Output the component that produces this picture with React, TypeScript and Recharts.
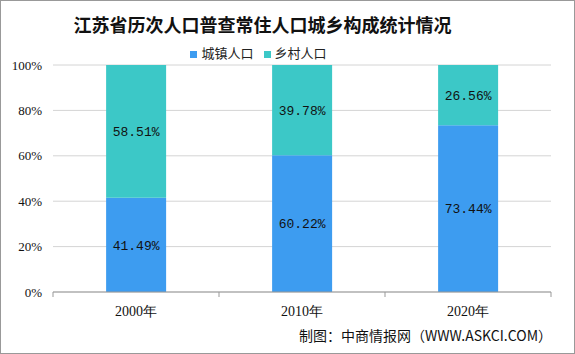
import React from "react";
import { BarChart, Bar, XAxis, YAxis, CartesianGrid, Legend, LabelList } from "recharts";

const years = ["2000年", "2010年", "2020年"];
const urban = [41.49, 60.22, 73.44];
const rural = [58.51, 39.78, 26.56];
const yTicks = [0, 20, 40, 60, 80, 100];
const seriesOrder = ["城镇人口", "乡村人口"];

const data = years.map((y, i) => ({ name: y, 城镇人口: urban[i], 乡村人口: rural[i] }));

const XTick = (props: any) => {
  const { x, y, payload, index, visibleTicksCount } = props;
  const off = payload.offset || 0;
  const last = index === (visibleTicksCount ?? years.length) - 1;
  return (
    <g>
      <line x1={x - off} x2={x - off} y1={y} y2={y + 5} stroke="#999" />
      {last && <line x1={x + off} x2={x + off} y1={y} y2={y + 5} stroke="#999" />}
      <text x={x} y={y + 24} textAnchor="middle" fontSize={14} fill="#111" fontFamily="serif">
        {payload.value}
      </text>
    </g>
  );
};

const App = () => {
  return (
    <div
      style={{
        position: "absolute",
        left: 0,
        top: 0,
        width: 575,
        height: 354,
        boxSizing: "border-box",
        border: "1px solid #999",
        background: "#fff",
        fontFamily: "serif",
      }}
    >
      <div
        style={{
          position: "absolute",
          top: 10,
          left: 0,
          width: 523,
          textAlign: "center",
          fontSize: 18,
          fontWeight: "bold",
          fontFamily: "'Noto Sans CJK SC'",
          color: "#111",
        }}
      >
        江苏省历次人口普查常住人口城乡构成统计情况
      </div>
      <BarChart
        width={575}
        height={354}
        data={data}
        margin={{ top: 46, right: 24, left: 0, bottom: 0 }}
        barCategoryGap="32%"
        style={{ position: "absolute", left: -1, top: -1 }}
      >
        <CartesianGrid vertical={false} stroke="#d4d4d4" />
        <XAxis
          dataKey="name"
          height={62}
          tickLine={false}
          tickSize={0}
          tickMargin={0}
          axisLine={{ stroke: "#999" }}
          tick={<XTick />}
          interval={0}
        />
        <YAxis
          width={53}
          domain={[0, 100]}
          ticks={yTicks}
          axisLine={false}
          tickLine={false}
          tickSize={0}
          tickMargin={11}
          tickFormatter={(v: number) => `${v}%`}
          tick={{ fontSize: 13, fill: "#111", fontFamily: "serif" }}
        />
        <Legend
          verticalAlign="top"
          align="center"
          iconType="square"
          iconSize={7}
          itemSorter={(item: any) => seriesOrder.indexOf(item.value)}
          wrapperStyle={{ top: 43, left: 0, width: 527 }}
          formatter={(v: string) => (
            <span style={{ color: "#222", fontSize: 13, fontFamily: "'Noto Sans CJK SC'" }}>{v}</span>
          )}
        />
        <Bar dataKey="城镇人口" stackId="a" fill="#3d9cf0" isAnimationActive={false}>
          <LabelList
            dataKey="城镇人口"
            position="center"
            formatter={(v: any) => `${Number(v).toFixed(2)}%`}
            style={{ fontSize: 13, fill: "#111", fontFamily: "'Liberation Mono'" }}
          />
        </Bar>
        <Bar dataKey="乡村人口" stackId="a" fill="#3cc8c7" isAnimationActive={false}>
          <LabelList
            dataKey="乡村人口"
            position="center"
            formatter={(v: any) => `${Number(v).toFixed(2)}%`}
            style={{ fontSize: 13, fill: "#111", fontFamily: "'Liberation Mono'" }}
          />
        </Bar>
      </BarChart>
      <div
        style={{
          position: "absolute",
          left: 298,
          top: 324,
          fontSize: 14,
          fontFamily: "'Noto Sans CJK SC'",
          color: "#111",
          whiteSpace: "nowrap",
        }}
      >
        制图：中商情报网（WWW.ASKCI.COM）
      </div>
    </div>
  );
};

export default App;
